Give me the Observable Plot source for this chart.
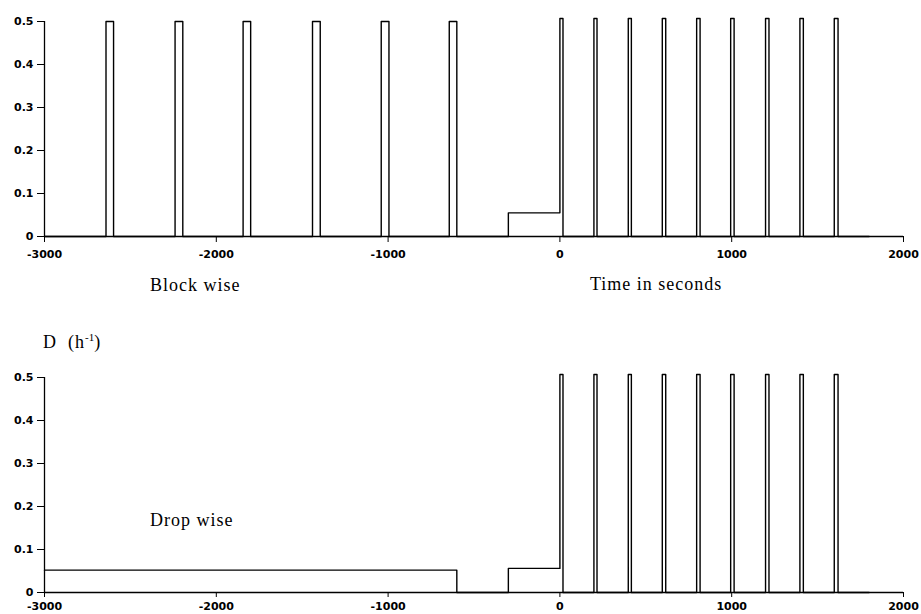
<!DOCTYPE html>
<html>
<head>
<meta charset="utf-8">
<script src="https://cdn.jsdelivr.net/npm/d3@7"></script>
<script src="https://cdn.jsdelivr.net/npm/@observablehq/plot@0.6"></script>
<style>
  html, body { margin: 0; padding: 0; background: white; }
  #wrap { position: relative; width: 921px; height: 614px; overflow: hidden; background: white; }
  .panel { position: absolute; left: 0; }
  .lbl { position: absolute; font-family: "Liberation Serif", "Times New Roman", serif; font-size: 18px; line-height: 18px; letter-spacing: 1px; color: black; white-space: nowrap; }
  .lbl sup { font-size: 11px; line-height: 0; vertical-align: 7px; letter-spacing: 0; }
</style>
</head>
<body>
<div id="wrap">
  <div class="panel" id="top" style="top:0px"></div>
  <div class="panel" id="bottom" style="top:300px"></div>
  <div class="lbl" style="left:150px; top:276px">Block wise</div>
  <div class="lbl" style="left:590px; top:275px">Time in seconds</div>
  <div class="lbl" style="left:43px; top:333px">D&nbsp;&nbsp;(h<sup>-1</sup>)</div>
  <div class="lbl" style="left:150px; top:511px">Drop wise</div>
</div>
<script>
// Axis ticks
const xTicks = [-3000, -2000, -1000, 0, 1000, 2000];
const yTicks = [0, 0.1, 0.2, 0.3, 0.4, 0.5];

// Block wise feeding: times (s) where the dilution rate D (h^-1) changes, and the new level
const blockTimes = [-3000, -2642, -2598, -2240, -2195, -1844, -1800, -1440, -1395, -1040, -995, -644, -600,
  -300, 0, 18, 198, 216, 398, 416, 596, 616, 796, 816, 994, 1014, 1197, 1217, 1397, 1417, 1597, 1619, 1800];
const blockRates = [0, 0.5, 0, 0.5, 0, 0.5, 0, 0.5, 0, 0.5, 0, 0.5, 0,
  0.055, 0.507, 0, 0.507, 0, 0.507, 0, 0.507, 0, 0.507, 0, 0.507, 0, 0.507, 0, 0.507, 0, 0.507, 0, 0];

// Drop wise feeding
const dropTimes = [-3000, -600, -300, 0, 18, 198, 216, 398, 416, 596, 616, 796, 816, 994, 1014, 1197, 1217, 1397, 1417, 1597, 1619, 1800];
const dropRates = [0.052, 0, 0.056, 0.507, 0, 0.507, 0, 0.507, 0, 0.507, 0, 0.507, 0, 0.507, 0, 0.507, 0, 0.507, 0, 0.507, 0, 0];

function panel(times, rates, height, marginTop, marginBottom, xTickSize, xTickPadding) {
  const data = times.map((t, i) => ({t, D: rates[i]}));
  return Plot.plot({
    width: 921,
    height,
    marginLeft: 44,
    marginRight: 18,
    marginTop,
    marginBottom,
    x: {domain: [-3000, 2000], label: null},
    y: {domain: [0, 0.5], label: null},
    style: {
      fontFamily: "'DejaVu Sans', sans-serif",
      fontSize: "11px",
      fontWeight: "bold",
      color: "black",
      background: "white",
      overflow: "visible"
    },
    marks: [
      Plot.ruleY([0], {stroke: "black", strokeWidth: 1.3}),
      Plot.ruleX([-3000], {stroke: "black", strokeWidth: 1.3}),
      Plot.axisX({ticks: xTicks, tickFormat: d => String(d), tickSize: xTickSize, tickPadding: xTickPadding, label: null, stroke: "black", fill: "black"}),
      Plot.axisY({ticks: yTicks, tickFormat: d => d === 0 ? "0" : d.toFixed(1), tickSize: 7, tickPadding: 4, label: null, stroke: "black", fill: "black"}),
      Plot.line(data, {x: "t", y: "D", curve: "step-after", stroke: "black", strokeWidth: 1.4})
    ]
  });
}

document.getElementById("top").appendChild(panel(blockTimes, blockRates, 270, 21, 34, 6, 8));
document.getElementById("bottom").appendChild(panel(dropTimes, dropRates, 314, 77, 22, 5, 5));
</script>
</body>
</html>
